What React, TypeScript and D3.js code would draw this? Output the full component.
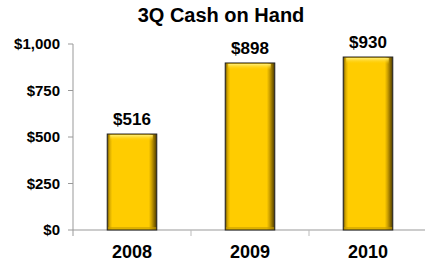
import React from 'react';
import * as d3 from 'd3';

// Chart data
const years = ['2008', '2009', '2010'];
const cash = [516, 898, 930];
const yTicks = [0, 250, 500, 750, 1000];

const width = 425;
const height = 266;
const margin = { top: 44, right: -2, bottom: 36, left: 73 };

const App = () => {
  const x = d3
    .scaleBand()
    .domain(years)
    .range([margin.left, width - margin.right])
    .paddingInner(0.58)
    .paddingOuter(0.29);

  const y = d3
    .scaleLinear()
    .domain([0, 1000])
    .range([height - margin.bottom, margin.top]);

  const fmt = (v: number) => `$${d3.format(',')(v)}`;
  const step = x.step();
  const font = 'Arial, "Liberation Sans", sans-serif';

  return (
    <svg
      width={width}
      height={height}
      style={{ position: 'absolute', left: 0, top: 0, background: 'white' }}
    >
      <defs>
        <linearGradient id="barSide" x1="0" x2="1" y1="0" y2="0">
          <stop offset="0" stopColor="#6b5200" />
          <stop offset="0.05" stopColor="#d8aa00" />
          <stop offset="0.1" stopColor="#ffcc00" />
          <stop offset="0.84" stopColor="#ffcc00" />
          <stop offset="0.9" stopColor="#c89c00" />
          <stop offset="1" stopColor="#4a3800" />
        </linearGradient>
        <linearGradient id="barTop" x1="0" x2="0" y1="0" y2="1">
          <stop offset="0" stopColor="#ffee77" />
          <stop offset="1" stopColor="#ffcc00" stopOpacity="0" />
        </linearGradient>
      </defs>

      <text
        x={221}
        y={22}
        textAnchor="middle"
        fontFamily={font}
        fontWeight="bold"
        fontSize={20}
        fill="#000"
      >
        3Q Cash on Hand
      </text>

      {/* y axis */}
      <line
        x1={margin.left}
        x2={margin.left}
        y1={y(1000)}
        y2={y(0) + 6}
        stroke="#999"
      />
      {yTicks.map((t) => (
        <g key={t}>
          <line
            x1={margin.left - 5}
            x2={margin.left}
            y1={y(t)}
            y2={y(t)}
            stroke="#999"
          />
          <text
            x={margin.left - 13}
            y={y(t)}
            dy="0.35em"
            textAnchor="end"
            fontFamily={font}
            fontWeight="bold"
            fontSize={15}
            fill="#000"
          >
            {fmt(t)}
          </text>
        </g>
      ))}

      {/* x axis */}
      <line
        x1={margin.left}
        x2={width}
        y1={y(0)}
        y2={y(0)}
        stroke="#999"
      />
      {years.map((yr, i) => (
        <line
          key={`tick-${yr}`}
          x1={margin.left + step * (i + 1)}
          x2={margin.left + step * (i + 1)}
          y1={y(0)}
          y2={y(0) + 6}
          stroke="#bbb"
        />
      ))}

      {/* bars */}
      {years.map((yr, i) => {
        const bx = x(yr) as number;
        const bw = x.bandwidth();
        const by = y(cash[i]);
        const bh = y(0) - by;
        return (
          <g key={yr}>
            <rect x={bx} y={by} width={bw} height={bh} fill="url(#barSide)" />
            <rect x={bx + 3} y={by + 1} width={bw - 7} height={6} fill="url(#barTop)" />
            <rect x={bx} y={by + bh - 3} width={bw} height={3} fill="#c89e00" opacity={0.6} />
            <rect
              x={bx}
              y={by}
              width={bw}
              height={bh}
              fill="none"
              stroke="#222"
              strokeWidth={1}
            />
            <text
              x={bx + bw / 2}
              y={by - 9}
              textAnchor="middle"
              fontFamily={font}
              fontWeight="bold"
              fontSize={17}
              fill="#000"
            >
              {fmt(cash[i])}
            </text>
            <text
              x={bx + bw / 2}
              y={258}
              textAnchor="middle"
              fontFamily={font}
              fontWeight="bold"
              fontSize={18}
              fill="#000"
            >
              {yr}
            </text>
          </g>
        );
      })}
    </svg>
  );
};

export default App;
